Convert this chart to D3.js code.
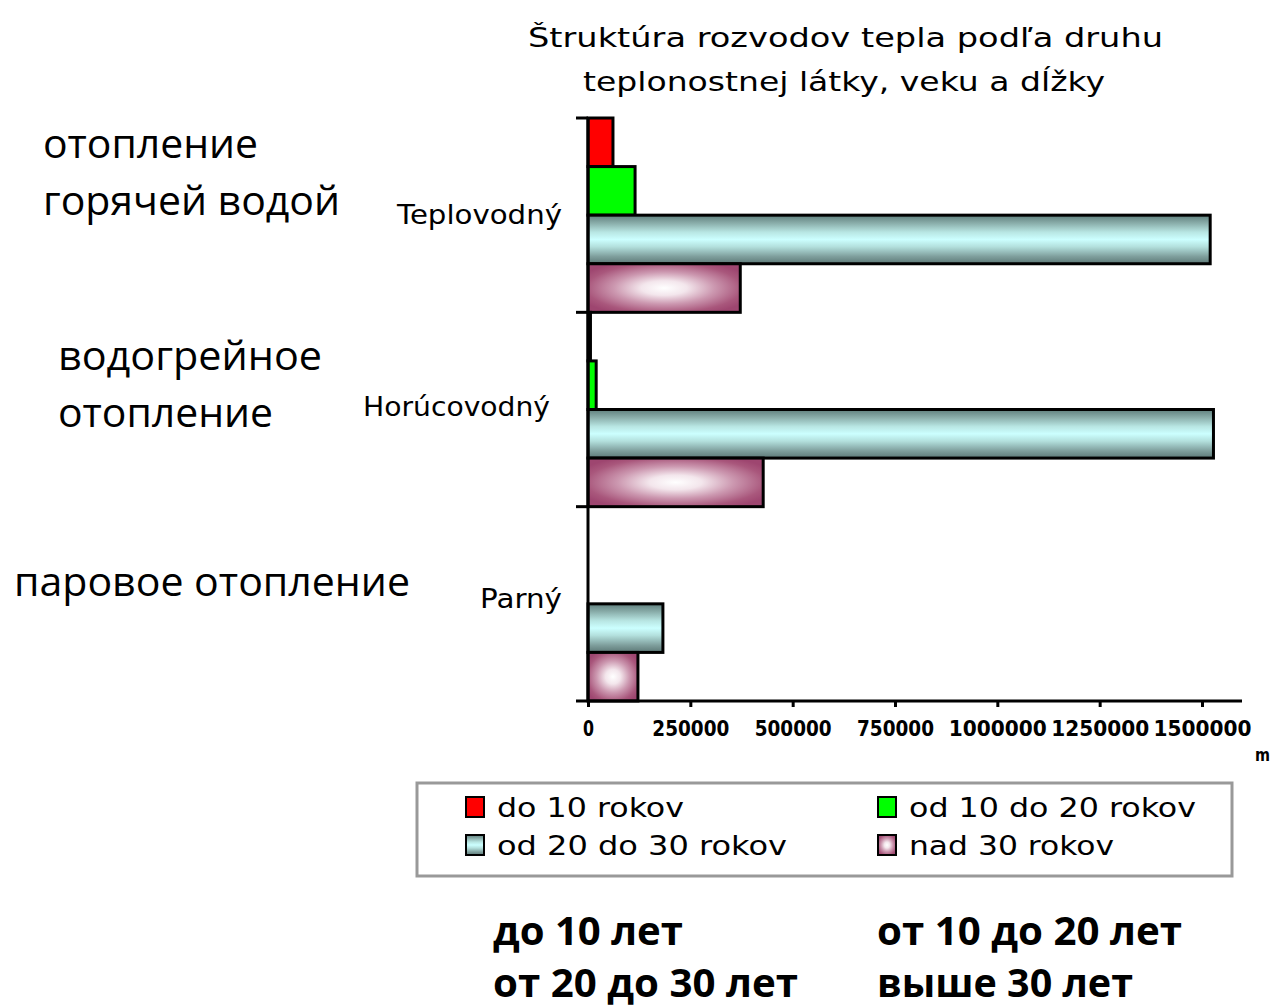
<!DOCTYPE html>
<html>
<head>
<meta charset="utf-8">
<script src="https://cdn.jsdelivr.net/npm/d3@7"></script>
<style>
  body { margin: 0; background: #fff; }
  svg { display: block; }
</style>
</head>
<body>
<div class="svg"></div>
<script>
const width = 1274
const height = 1008

// data (metres of heat distribution pipes)
const categories = ['Teplovodný', 'Horúcovodný', 'Parný']
const seriesKeys = ['do10', 'od10do20', 'od20do30', 'nad30']
const seriesNames = ['do 10 rokov', 'od 10 do 20 rokov', 'od 20 do 30 rokov', 'nad 30 rokov']
const do10 = [61000, 6000, 0]
const od10do20 = [115000, 20000, 0]
const od20do30 = [1520000, 1528000, 183000]
const nad30 = [372000, 428000, 122000]
const tickValues = [0, 250000, 500000, 750000, 1000000, 1250000, 1500000]
const ruLeft = [['отопление', 'горячей водой'], ['водогрейное', 'отопление'], ['паровое отопление']]
const ruLegend = ['до 10 лет', 'от 10 до 20 лет', 'от 20 до 30 лет', 'выше 30 лет']

const values = { do10, od10do20, od20do30, nad30 }
const rows = categories.map((c, i) => {
  const r = { category: c }
  seriesKeys.forEach(k => { r[k] = values[k][i] })
  return r
})

const svg = d3
  .select('.svg')
  .append('svg')
  .attr('width', width)
  .attr('height', height)

const defs = svg.append('defs')

// cylinder-like gradient for 20-30
const cyanGrad = defs.append('linearGradient')
  .attr('id', 'cyanGrad')
  .attr('x1', 0).attr('y1', 0).attr('x2', 0).attr('y2', 1)
;[[0, '#5f7f7d'], [0.15, '#86a9a6'], [0.35, '#b8e6e3'], [0.5, '#ccffff'], [0.65, '#b3e0dd'], [0.85, '#7f9f9d'], [1, '#5c7876']]
  .forEach(s => cyanGrad.append('stop').attr('offset', s[0]).attr('stop-color', s[1]))

// glowing gradient for >30
const pinkGrad = defs.append('radialGradient')
  .attr('id', 'pinkGrad')
  .attr('cx', 0.5).attr('cy', 0.5).attr('r', 0.6)
;[[0, '#ffffff'], [0.25, '#f3e6ec'], [0.55, '#cc98b0'], [0.85, '#a9577c'], [1, '#9e4670']]
  .forEach(s => pinkGrad.append('stop').attr('offset', s[0]).attr('stop-color', s[1]))

const colors = {
  do10: '#ff0000',
  od10do20: '#00ff00',
  od20do30: 'url(#cyanGrad)',
  nad30: 'url(#pinkGrad)'
}

const x0 = 588
const xScale = d3.scaleLinear().domain([0, 1500000]).range([x0, 1202])

const yScale = d3.scaleBand().domain(categories).range([118, 701]).padding(0)
const ySub = d3.scaleBand().domain(seriesKeys).range([0, yScale.bandwidth()]).padding(0)

const chartFont = 'DejaVu Sans, sans-serif'

// Title
const title = svg.append('g')
  .attr('font-family', chartFont)
  .attr('font-size', 27)
  .attr('fill', '#000')
title.append('text')
  .attr('x', 528).attr('y', 47)
  .attr('textLength', 635).attr('lengthAdjust', 'spacingAndGlyphs')
  .text('Štruktúra rozvodov tepla  podľa druhu')
title.append('text')
  .attr('x', 583).attr('y', 91)
  .attr('textLength', 522).attr('lengthAdjust', 'spacingAndGlyphs')
  .text('teplonostnej látky, veku a dĺžky')

// Bars
const groups = svg.append('g')
  .selectAll('g')
  .data(rows)
  .enter()
  .append('g')
  .attr('transform', d => 'translate(0,' + yScale(d.category) + ')')

groups.selectAll('rect')
  .data(d => seriesKeys.map(k => ({ key: k, value: d[k] })).filter(e => e.value > 0))
  .enter()
  .append('rect')
  .attr('x', xScale(0))
  .attr('y', d => ySub(d.key))
  .attr('width', d => xScale(d.value) - xScale(0))
  .attr('height', ySub.bandwidth())
  .attr('fill', d => colors[d.key])
  .attr('stroke', '#000')
  .attr('stroke-width', 3)

// X axis
const xAxis = d3.axisBottom(xScale)
  .tickValues(tickValues)
  .tickSize(6)
  .tickFormat(d3.format('d'))

const gx = svg.append('g')
  .attr('transform', 'translate(0,701)')
  .call(xAxis)
gx.select('.domain')
  .attr('d', 'M576,0H1242')
  .attr('stroke-width', 3)
gx.selectAll('.tick line').attr('stroke-width', 3)
gx.selectAll('.tick text')
  .attr('font-family', chartFont)
  .attr('font-size', 21)
  .attr('font-weight', 'bold')
  .attr('y', 20)
  .attr('textLength', d => d === 0 ? 11 : (String(d).length === 6 ? 77 : 98))
  .attr('lengthAdjust', 'spacingAndGlyphs')

svg.append('text')
  .attr('x', 1255).attr('y', 761)
  .attr('font-family', chartFont)
  .attr('font-size', 18)
  .attr('font-weight', 'bold')
  .attr('textLength', 15)
  .attr('lengthAdjust', 'spacingAndGlyphs')
  .text('m')

// Y axis
const yAxis = d3.axisLeft(yScale).tickSize(0).tickFormat('')
const gy = svg.append('g')
  .attr('transform', 'translate(' + x0 + ',0)')
  .call(yAxis)
gy.select('.domain').attr('d', 'M0,118V701').attr('stroke-width', 3)
gy.selectAll('.boundary')
  .data(categories)
  .enter()
  .append('line')
  .attr('x1', -12).attr('x2', 0)
  .attr('y1', d => yScale(d))
  .attr('y2', d => yScale(d))
  .attr('stroke', '#000')
  .attr('stroke-width', 3)

// category labels
svg.append('g')
  .selectAll('text')
  .data(categories)
  .enter()
  .append('text')
  .attr('x', (d, i) => i === 1 ? 550 : 562)
  .attr('y', (d, i) => yScale(d) + [106, 104, 101][i])
  .attr('text-anchor', 'end')
  .attr('font-family', chartFont)
  .attr('font-size', 27)
  .attr('textLength', (d, i) => [165, 187, 82][i])
  .attr('lengthAdjust', 'spacingAndGlyphs')
  .text(d => d)

// Russian annotations on the left
const ruFont = 'Open Sans, Noto Sans, sans-serif'
const ruPos = [[43, [158, 215]], [58, [370, 427]], [14, [596]]]
const ruWidths = [[215, 297], [264, 215], [396]]
ruLeft.forEach((lines, i) => {
  lines.forEach((t, j) => {
    svg.append('text')
      .attr('x', ruPos[i][0])
      .attr('y', ruPos[i][1][j])
      .attr('font-family', ruFont)
      .attr('font-size', 40)
      .attr('textLength', ruWidths[i][j])
      .attr('lengthAdjust', 'spacingAndGlyphs')
      .text(t)
  })
})

// Legend
const legend = svg.append('g').attr('id', 'legend')
legend.append('rect')
  .attr('x', 417).attr('y', 783)
  .attr('width', 815).attr('height', 93)
  .attr('fill', '#fff')
  .attr('stroke', '#999')
  .attr('stroke-width', 3)

const legendPos = [[466, 797], [878, 797], [466, 835], [878, 835]]
const legendTextW = [187, 287, 290, 205]
seriesKeys.forEach((k, i) => {
  const [lx, ly] = legendPos[i]
  legend.append('rect')
    .attr('x', lx).attr('y', ly)
    .attr('width', 18).attr('height', 20)
    .attr('fill', colors[k])
    .attr('stroke', '#000')
    .attr('stroke-width', 2)
  legend.append('text')
    .attr('x', lx + 31).attr('y', ly + 20)
    .attr('font-family', chartFont)
    .attr('font-size', 27)
    .attr('textLength', legendTextW[i])
    .attr('lengthAdjust', 'spacingAndGlyphs')
    .text(seriesNames[i])
})

// Russian legend translation
const ruLegPos = [[493, 945], [877, 945], [493, 997], [877, 997]]
const ruLegW = [190, 305, 305, 256]
ruLegend.forEach((t, i) => {
  svg.append('text')
    .attr('x', ruLegPos[i][0])
    .attr('y', ruLegPos[i][1])
    .attr('font-family', ruFont)
    .attr('font-size', 40)
    .attr('font-weight', 'bold')
    .attr('textLength', ruLegW[i])
    .attr('lengthAdjust', 'spacingAndGlyphs')
    .text(t)
})
</script>
</body>
</html>
